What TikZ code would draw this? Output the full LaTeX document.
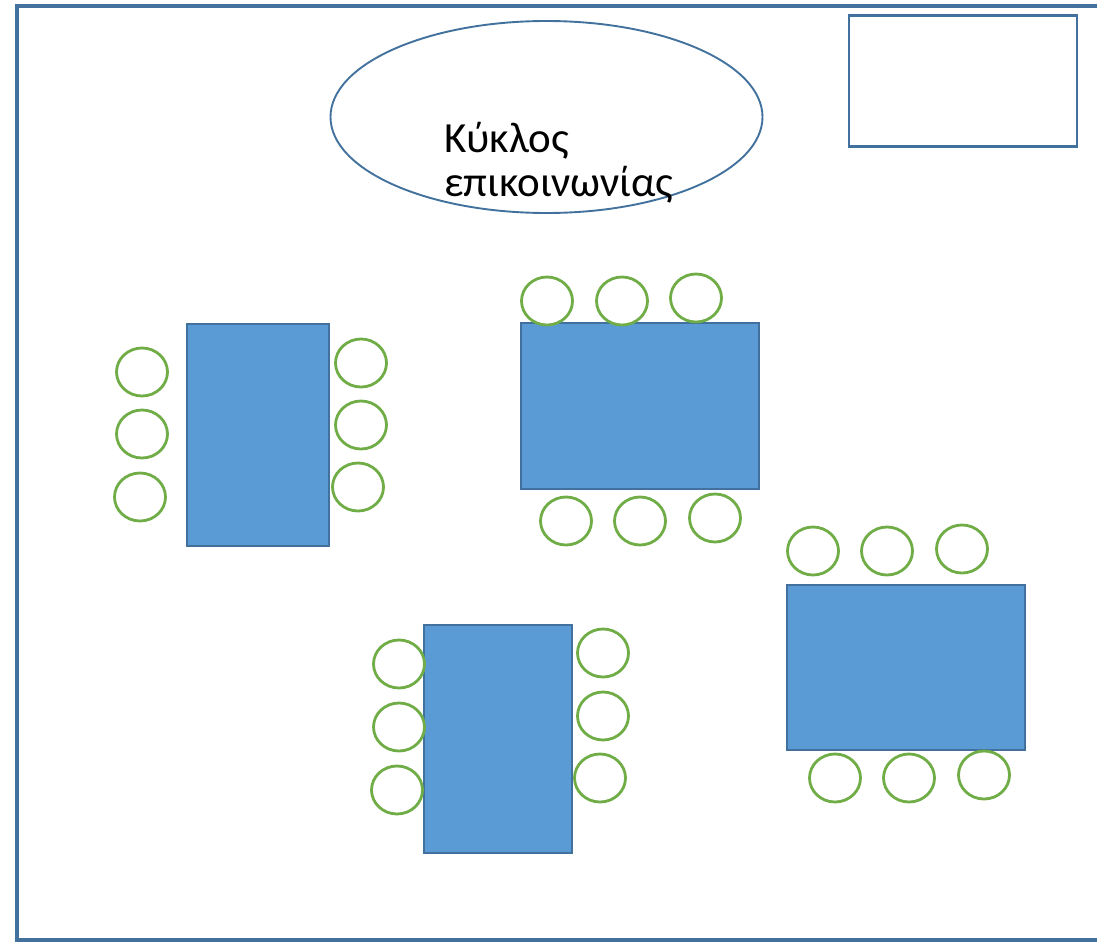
\documentclass[tikz,border=0pt]{standalone}
\usepackage{fontspec}
\setmainfont{Carlito}
\usetikzlibrary{shapes.geometric, positioning}

\definecolor{tableblue}{HTML}{5B9BD5}
\definecolor{edgeblue}{HTML}{41719C}
\definecolor{chairgreen}{HTML}{70AD47}

\begin{document}
\begin{tikzpicture}[x = 1pt, y = -1pt, % one pixel per point
                edgeblue, line join = miter
            ]

            \tikzstyle{table}=[draw = edgeblue, fill = tableblue, line width = 2.6pt,
            rectangle, inner sep = 0pt]
            \tikzstyle{chair}=[draw = chairgreen, fill = white, line width = 2.8pt,
            ellipse, inner sep = 0pt, minimum width = 51pt, minimum height = 48pt]

            \useasboundingbox (0,0) rectangle (1097,942);

            % room walls and the board
            \draw[line width = 3.2pt] (1102,6) -- (17,6) -- (17,940) -- (1102,940);
            \node (board) [draw, line width = 2.8pt, minimum width = 228pt,
            minimum height = 131pt, inner sep = 0pt] at (963,81) {};

            % communication circle
            \node (circ) [draw, ellipse, line width = 1.9pt, minimum width = 432pt,
            minimum height = 192pt] at (546.5,117) {};
            \node (lbl) [black, anchor = base west, inner sep = 0pt, align = left,
            font = \fontsize{43}{44}\selectfont] at (444,196) {Κύκλος\\επικοινωνίας};

            % tables
            \node (t1) [table, minimum width = 142pt, minimum height = 222pt] at (258,435) {};
            \node (t2) [table, minimum width = 238pt, minimum height = 166pt] at (640,406) {};
            \node (t3) [table, minimum width = 148pt, minimum height = 228pt] at (498,739) {};
            \node (t4) [table, minimum width = 238pt, minimum height = 165pt] at (906,667.5) {};

            % chairs at table t1
            \node (c11) [chair] at (142,372) {}; \node (c12) [chair] at (142,434) {};
            \node (c13) [chair] at (140,497) {}; \node (c14) [chair] at (361,363) {};
            \node (c15) [chair] at (361,425) {}; \node (c16) [chair] at (358,487) {};

            % chairs at table t2
            \node (c21) [chair] at (547,301) {}; \node (c22) [chair] at (622,301) {};
            \node (c23) [chair] at (696,298) {}; \node (c24) [chair] at (566,521) {};
            \node (c25) [chair] at (640,521) {}; \node (c26) [chair] at (715,518) {};

            % chairs at table t3
            \node (c31) [chair] at (399,664) {}; \node (c32) [chair] at (399,727) {};
            \node (c33) [chair] at (397,790) {}; \node (c34) [chair] at (603,653) {};
            \node (c35) [chair] at (603,716) {}; \node (c36) [chair] at (600,778) {};

            % chairs at table t4
            \node (c41) [chair] at (813,551) {}; \node (c42) [chair] at (887,551) {};
            \node (c43) [chair] at (962,549) {}; \node (c44) [chair] at (835,778) {};
            \node (c45) [chair] at (909,778) {}; \node (c46) [chair] at (984,775) {};
\end{tikzpicture}
\end{document}
